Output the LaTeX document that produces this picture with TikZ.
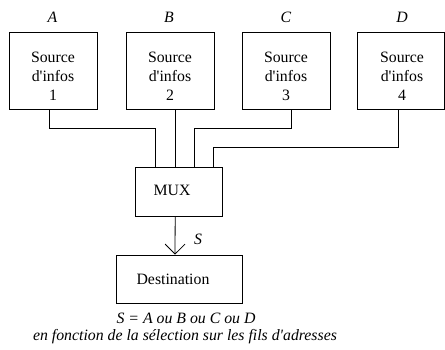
\documentclass[tikz,border=0pt]{standalone}
\usepackage{fontspec}
\setmainfont{Liberation Serif}[Ligatures=TeXOff]
\usetikzlibrary{arrows.meta}
\begin{document}
\begin{tikzpicture}[x=1pt,y=-1pt,
  box/.style={draw,line width=0.8pt,minimum width=88pt,minimum height=77pt,inner sep=0pt},
  txt/.style={font=\fontsize{15.8}{19}\selectfont,inner sep=0pt,align=center},
  itxt/.style={font=\fontsize{15.8}{19}\selectfont\itshape,inner sep=0pt,align=center},
  wire/.style={line width=0.8pt}]
\useasboundingbox (0,0) rectangle (445,349);
% sources
\node[box] (s1) at (53,70.5) {};
\node[box] (s2) at (170,70.5) {};
\node[box] (s3) at (286,70.5) {};
\node[box,minimum width=87pt] (s4) at (401,70.5) {};
\node[txt] (t1) at (53,76) {Source\\d'infos\\1};
\node[txt] (t2) at (170,76) {Source\\d'infos\\2};
\node[txt] (t3) at (286,76) {Source\\d'infos\\3};
\node[txt] (t4) at (402,76) {Source\\d'infos\\4};
\node[itxt] (la) at (52.5,17) {A};
\node[itxt] (lb) at (169,17) {B};
\node[itxt] (lc) at (286,17) {C};
\node[itxt] (ld) at (402,17) {D};
% mux
\node[box,minimum width=87pt,minimum height=49pt] (mux) at (179.2,191.5) {};
\node[txt] (mt) at (172,190) {MUX};
% destination
\node[box,minimum width=126pt,minimum height=48pt] (dest) at (179,279) {};
\node[txt] (dt) at (173,279) {Destination};
% wires
\draw[wire] ([xshift=-4pt]s1.south) -- ++(0,19) -| ([xshift=-24pt]mux.north);
\draw[wire] ([xshift=5pt]s2.south) -- ([xshift=5pt]s2.south |- mux.north);
\draw[wire] ([xshift=5pt]s3.south) -- ++(0,19) -| ([xshift=15pt]mux.north);
\draw[wire] ([xshift=-3pt]s4.south) -- ++(0,38) -| ([xshift=34pt]mux.north);
\draw[wire,-{Straight Barb[length=10pt,width=20pt,line width=0.8pt]}] ([xshift=-4pt]mux.south) -- ([xshift=-4pt]dest.north);
\node[itxt] (ls) at (198,239) {S};
% caption
\node[itxt] (c1) at (186,318) {S = A ou B ou C ou D};
\node[itxt] (c2) at (185,337) {en fonction de la sélection sur les fils d'adresses};
\end{tikzpicture}
\end{document}
